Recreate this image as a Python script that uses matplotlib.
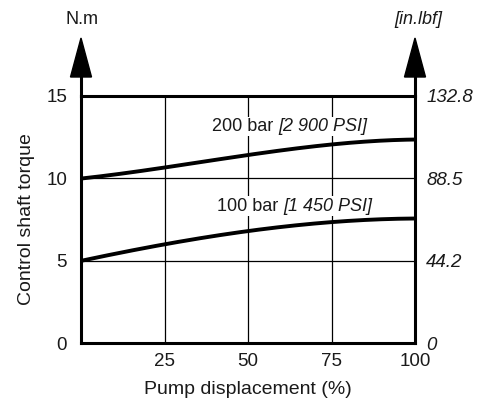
import matplotlib
matplotlib.use("Agg")
import matplotlib.pyplot as plt
from matplotlib.patches import Polygon
import numpy as np

displacement = [0, 25, 50, 75, 100]
torque_200 = [10.0, 10.6, 11.5, 12.0, 12.37]
torque_100 = [5.0, 5.95, 6.86, 7.3, 7.57]
x_ticks = [25, 50, 75, 100]
y_ticks = [0, 5, 10, 15]
y2_ticks = [0, 44.2, 88.5, 132.8]
y2_labels = ["0", "44.2", "88.5", "132.8"]

plt.rcParams['font.family'] = ['Liberation Sans', 'DejaVu Sans']
TXT = '#1a1a1a'

fig = plt.figure(figsize=(4.81, 4.05), dpi=100)
ax = fig.add_axes([81/481, 62/405, (415-81)/481, (343-96)/405])

def smooth(x, y):
    xs = np.linspace(x[0], x[-1], 200)
    c = np.polyfit(x, y, 3)
    return xs, np.polyval(c, xs)

for y in (torque_200, torque_100):
    xs, ys = smooth(displacement, y)
    ax.plot(xs, ys, color='black', lw=2.8, solid_capstyle='butt', zorder=4)

ax.set_xlim(0, 100)
ax.set_ylim(0, 15)
for v in (25, 50, 75):
    ax.axvline(v, color='black', lw=0.9, zorder=1)
for v in (5, 10):
    ax.axhline(v, color='black', lw=0.9, zorder=1)

for s in ax.spines.values():
    s.set_linewidth(2.2)

ax.set_xticks(x_ticks)
ax.set_xticklabels([str(t) for t in x_ticks], fontsize=13.5, color=TXT)
ax.set_yticks(y_ticks)
ax.set_yticklabels([str(t) for t in y_ticks], fontsize=13.5, color=TXT)
ax.tick_params(axis='y', length=0, pad=10)
ax.tick_params(axis='x', length=0, pad=7)
ax.set_xlabel("Pump displacement (%)", fontsize=14, labelpad=8, color=TXT)
ax.set_ylabel("Control shaft torque", fontsize=14, labelpad=8, color=TXT)

ax2 = ax.twinx()
ax2.set_ylim(0, 132.8)
ax2.set_yticks(y2_ticks)
ax2.set_yticklabels(y2_labels, fontsize=13.5, style='italic', color=TXT)
ax2.tick_params(length=0, pad=8)
for s in ax2.spines.values():
    s.set_visible(False)

# labels on curves
bbox = dict(facecolor='white', edgecolor='none', pad=1.0)
ax.text(59, 13.15, "200 bar ", ha='right', va='center', fontsize=13, zorder=5, bbox=bbox, color=TXT)
ax.text(59, 13.15, "[2 900 PSI]", ha='left', va='center', fontsize=13, style='italic', zorder=5, bbox=bbox, color=TXT)
ax.text(60.5, 8.3, "100 bar ", ha='right', va='center', fontsize=13, zorder=5, bbox=bbox, color=TXT)
ax.text(60.5, 8.3, "[1 450 PSI]", ha='left', va='center', fontsize=13, style='italic', zorder=5, bbox=bbox, color=TXT)

# axis arrows
xu = 100 / 334.0
yu = 15 / 247.0
for xa in (0, 100):
    ax.plot([xa, xa], [15, 15 + 40 * yu], color='black', lw=2.2, clip_on=False, zorder=6)
    tri = Polygon([[xa - 10.5 * xu, 15 + 19 * yu], [xa + 10.5 * xu, 15 + 19 * yu], [xa, 15 + 58 * yu]],
                  closed=True, facecolor='black', edgecolor='black', clip_on=False, zorder=6)
    ax.add_patch(tri)

fig.text(82/481, 1 - 20/405, "N.m", ha='center', va='center', fontsize=13, color=TXT)
fig.text(418/481, 1 - 20/405, "[in.lbf]", ha='center', va='center', fontsize=13, style='italic', color=TXT)

fig.savefig("out.png", dpi=100)
